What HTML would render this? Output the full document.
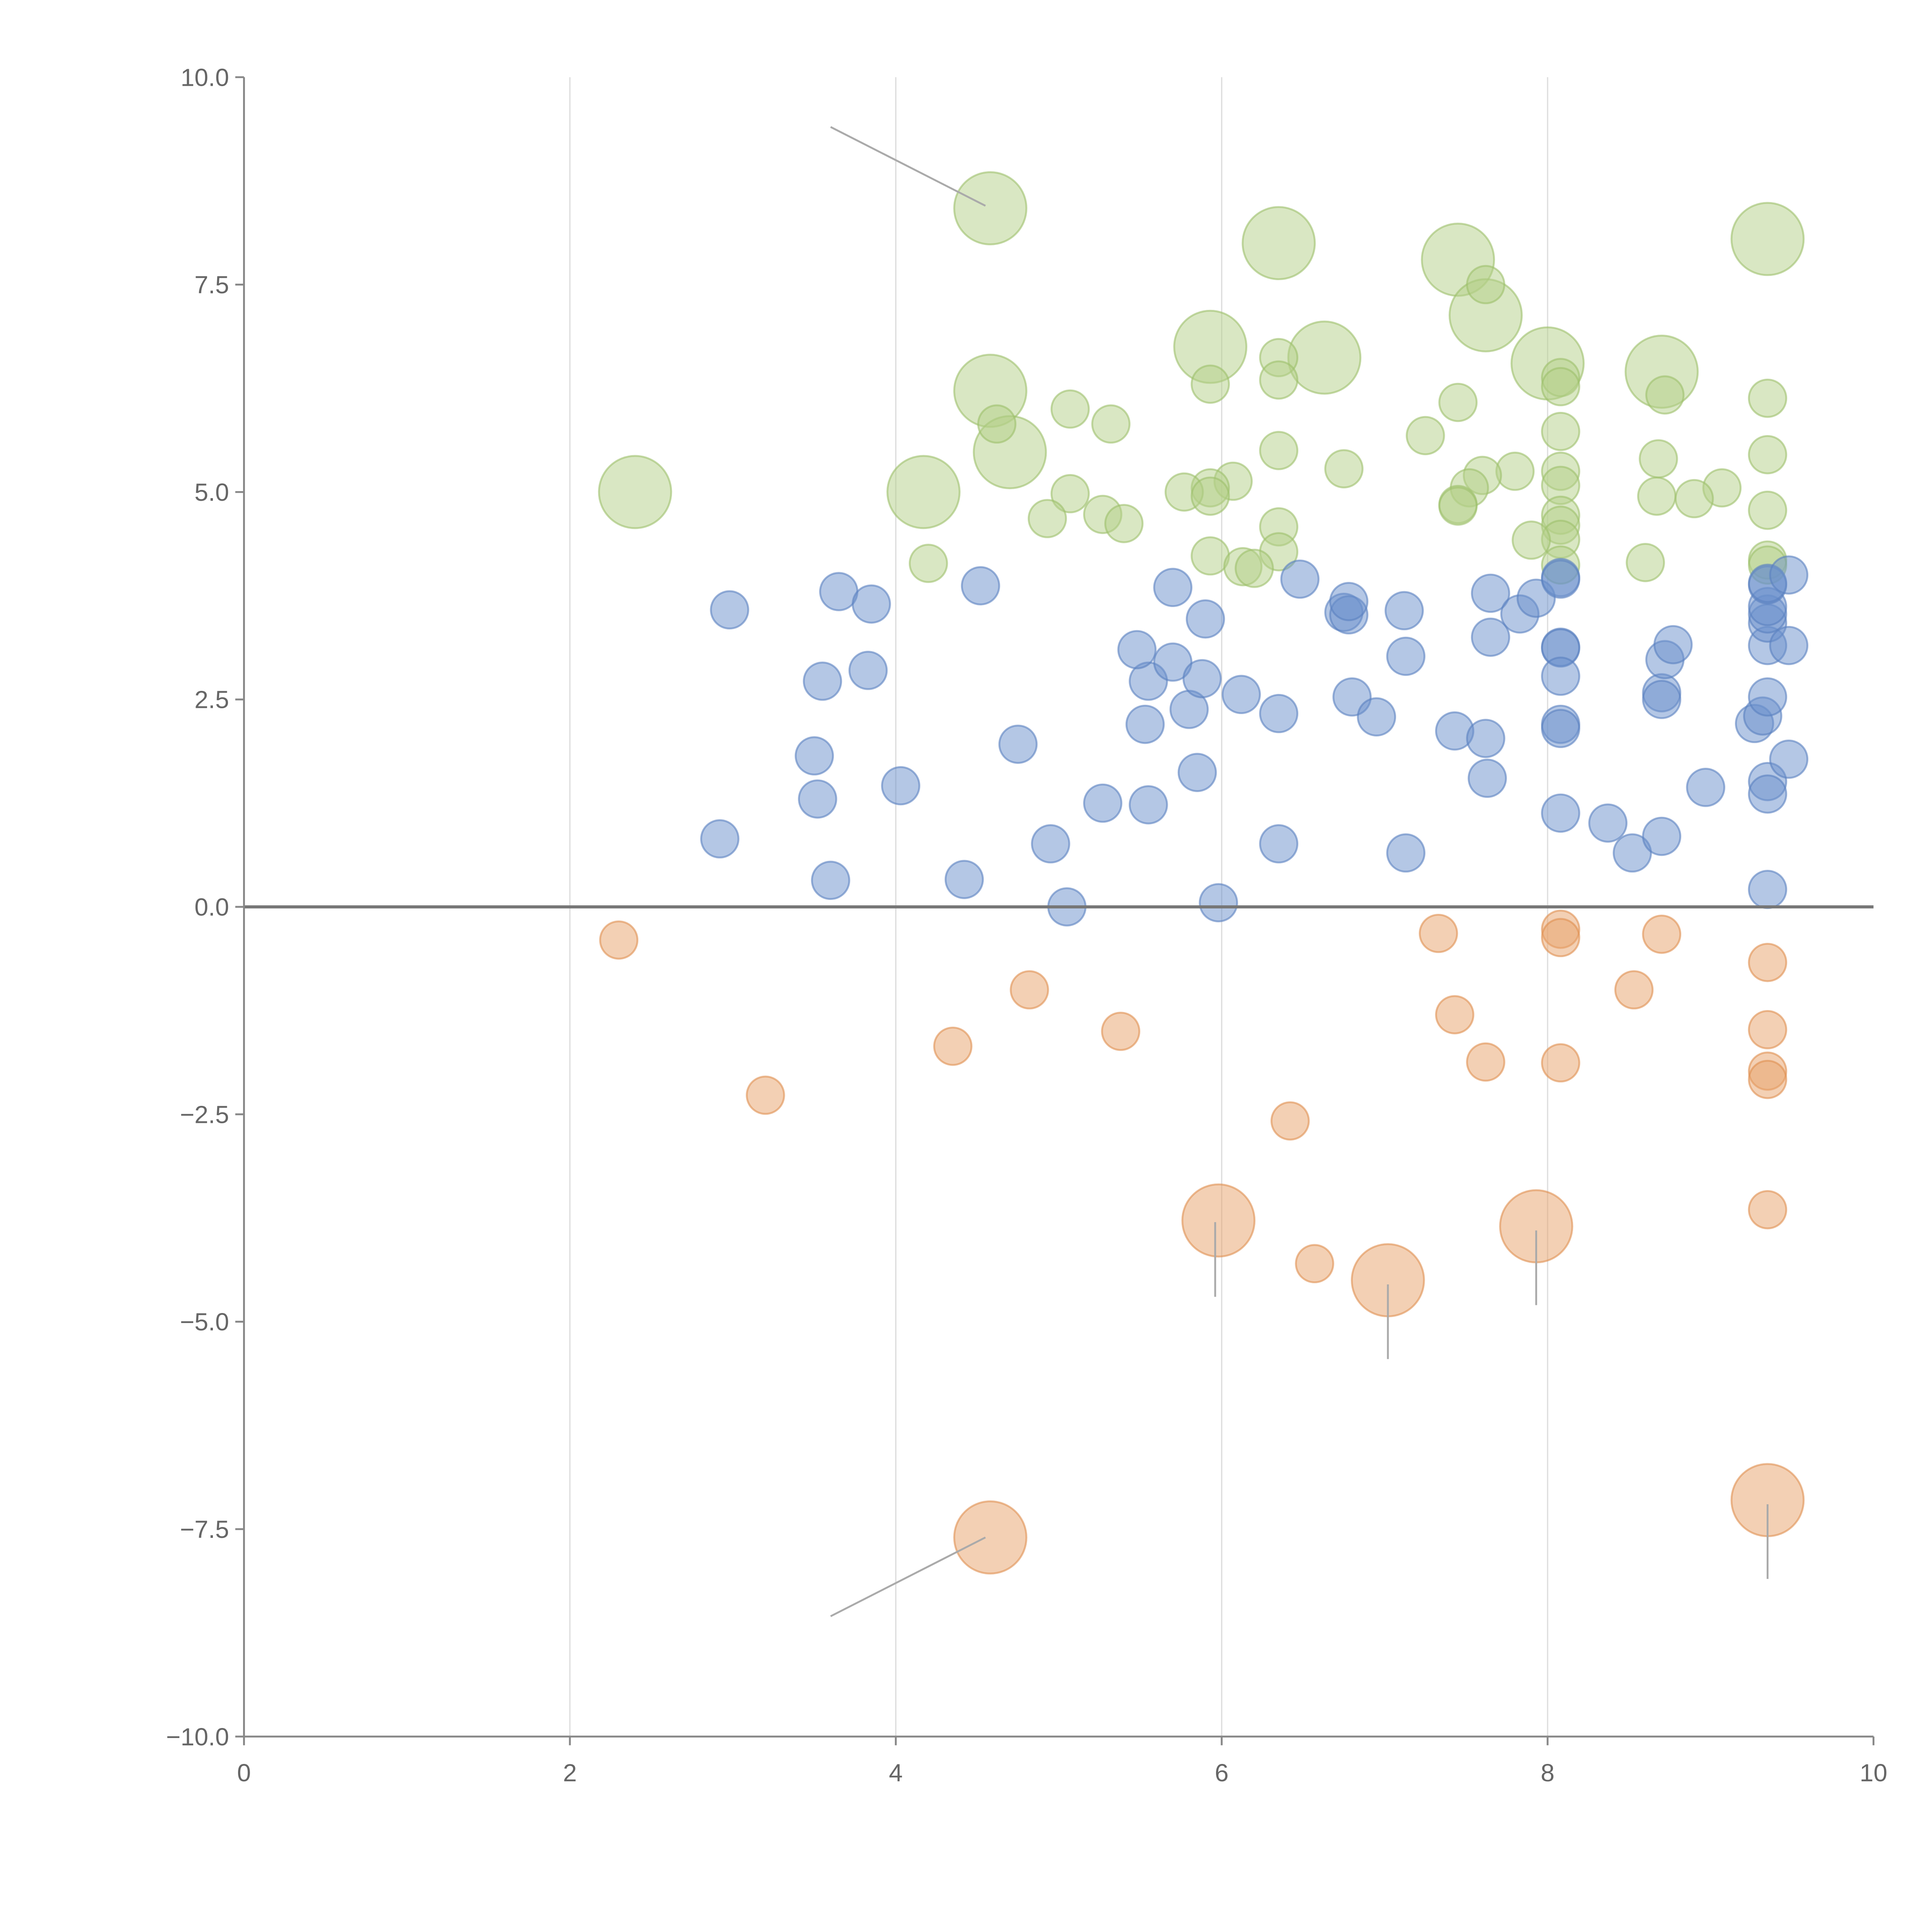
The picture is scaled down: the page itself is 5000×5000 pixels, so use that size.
<!DOCTYPE html>
<html><head><meta charset="utf-8">
<style>
html,body{margin:0;padding:0;background:#fff;}
svg{display:block;}
text{font-family:"Liberation Sans",sans-serif;}
</style></head>
<body>
<svg id="chart" width="5000" height="5000" viewBox="0 0 1552 1552" xmlns="http://www.w3.org/2000/svg">
<g id="grid"></g>
<g id="points"></g>
<g id="leaders"></g>
<g id="axes"></g>
</svg>
<script>
const xTicks = [0,2,4,6,8,10];
const yTicks = [10,7.5,5,2.5,0,-2.5,-5,-7.5,-10];
const yTickLabels = ["10.0","7.5","5.0","2.5","0.0","−2.5","−5.0","−7.5","−10.0"];
const greenX = [4.58,6.35,7.45,9.35,5.93,6.63,7.62,8.0,8.7,4.58,4.7,4.17,2.4,7.62,5.93,6.35,6.35,8.08,8.08,8.72,9.35,7.45,5.07,5.32,4.62,8.08,7.25,6.35,9.35,8.68,6.75,7.8,8.08,7.6,6.07,5.93,5.07,5.77,8.08,7.52,9.07,8.67,8.9,5.93,7.45,7.45,9.35,8.08,4.93,5.27,5.4,8.08,6.35,8.08,7.9,6.35,5.93,9.35,9.35,8.08,8.6,4.2,6.13,6.2];
const greenY = [8.42,8.0,7.8,8.05,6.75,6.62,7.13,6.55,6.45,6.22,5.48,5.0,5.0,7.5,6.3,6.62,6.35,6.38,6.27,6.17,6.13,6.08,6.0,5.82,5.82,5.73,5.68,5.5,5.45,5.4,5.28,5.25,5.25,5.2,5.13,5.05,4.98,5.0,5.08,5.05,5.05,4.95,4.92,4.95,4.85,4.83,4.78,4.72,4.68,4.73,4.62,4.6,4.58,4.43,4.42,4.28,4.23,4.18,4.12,4.12,4.15,4.14,4.1,4.08];
const greenBig = [1,1,1,1,1,1,1,1,1,1,1,1,1,0,0,0,0,0,0,0,0,0,0,0,0,0,0,0,0,0,0,0,0,0,0,0,0,0,0,0,0,0,0,0,0,0,0,0,0,0,0,0,0,0,0,0,0,0,0,0,0,0,0,0];
const blueX = [2.98,3.65,3.85,4.52,3.55,3.83,3.5,3.52,4.03,4.75,2.92,3.6,4.42,4.95,5.05,5.98,5.27,5.55,5.85,5.53,5.8,5.55,5.48,5.7,5.88,5.9,5.7,6.12,6.35,6.35,6.48,6.75,6.78,6.78,6.8,6.95,7.12,7.13,7.13,7.43,7.62,7.63,7.65,7.65,7.83,7.93,8.08,8.08,8.08,8.08,8.08,8.08,8.08,8.08,8.37,8.52,8.7,8.7,8.7,8.72,8.77,8.97,9.27,9.32,9.35,9.35,9.35,9.35,9.35,9.35,9.35,9.35,9.35,9.35,9.48,9.48,9.48];
const blueY = [3.58,3.8,3.65,3.87,2.72,2.85,1.82,1.3,1.46,1.96,0.82,0.32,0.33,0.76,0.0,0.05,1.25,1.23,1.62,2.2,2.38,2.72,3.1,2.95,2.75,3.47,3.85,2.56,2.33,0.76,3.95,3.55,3.52,3.68,2.53,2.29,3.57,3.02,0.65,2.12,2.03,1.55,3.78,3.25,3.53,3.72,3.97,3.95,3.13,3.12,2.78,2.2,2.15,1.13,1.01,0.65,0.85,2.58,2.5,2.98,3.16,1.44,2.21,2.3,1.51,1.36,0.21,2.53,3.15,3.42,3.53,3.62,3.88,3.9,4.0,3.15,1.78];
const orangeX = [2.3,3.2,4.35,4.82,5.38,6.42,6.57,7.33,7.43,7.62,8.08,8.08,8.08,8.53,8.7,9.35,9.35,9.35,9.35,9.35,5.98,7.02,7.93,4.58,9.35];
const orangeY = [-0.4,-2.27,-1.68,-1.0,-1.5,-2.58,-4.3,-0.32,-1.3,-1.87,-0.27,-0.37,-1.88,-1.0,-0.33,-0.67,-1.48,-1.98,-2.08,-3.65,-3.78,-4.5,-3.85,-7.6,-7.15];
const orangeBig = [0,0,0,0,0,0,0,0,0,0,0,0,0,0,0,0,0,0,0,0,1,1,1,1,1];
const leaderX1 = [3.6,3.6,5.96,7.02,7.93,9.35];
const leaderY1 = [9.4,-8.55,-3.8,-4.55,-3.9,-7.2];
const leaderX2 = [4.55,4.55,5.96,7.02,7.93,9.35];
const leaderY2 = [8.45,-7.6,-4.7,-5.45,-4.8,-8.1];

const NS="http://www.w3.org/2000/svg";
const X0=196,X1=1505,Y0=1395,Y1=62;
function sx(v){return X0+(v-0)/(10-0)*(X1-X0);}
function sy(v){return Y0-(v+10)/20*(Y0-Y1);}
function mk(t,a,p){const e=document.createElementNS(NS,t);for(const k in a)e.setAttribute(k,a[k]);p.appendChild(e);return e;}
const grid=document.getElementById('grid'),pts=document.getElementById('points'),ax=document.getElementById('axes'),ld=document.getElementById('leaders');
xTicks.forEach(t=>{if(t>0&&t<10){const l=mk('line',{x1:sx(t),x2:sx(t),y1:Y1,y2:Y0,stroke:'#dddddd','stroke-width':1},grid);

}});
function series(xs,ys,big,fill,stroke,name){
 xs.forEach((x,i)=>{const c=mk('circle',{cx:sx(x),cy:sy(ys[i]),r:big[i]?29:15,fill:fill,'fill-opacity':0.5,stroke:stroke,'stroke-opacity':0.6,'stroke-width':1.5},pts);
 
 });
}
series(greenX,greenY,greenBig,'#b3cf88','#9dbf6a','bubble-positive-high');
series(blueX,blueY,blueX.map(()=>0),'#6a8fcc','#5a80c0','bubble-positive');
series(orangeX,orangeY,orangeBig,'#e8a26a','#e09050','bubble-negative');
leaderX1.forEach((x,i)=>{const l=mk('line',{x1:sx(x),y1:sy(leaderY1[i]),x2:sx(leaderX2[i]),y2:sy(leaderY2[i]),stroke:'#aaaaaa','stroke-width':1.5},ld);

});
const z=mk('line',{x1:X0,x2:X1,y1:sy(0),y2:sy(0),stroke:'#777','stroke-width':2.5},ax);


const ya=mk('line',{x1:X0,x2:X0,y1:Y1,y2:Y0,stroke:'#888','stroke-width':1.5},ax);


const xa=mk('line',{x1:X0,x2:X1,y1:Y0,y2:Y0,stroke:'#888','stroke-width':1.5},ax);


yTicks.forEach((t,i)=>{mk('line',{x1:X0-7,x2:X0,y1:sy(t),y2:sy(t),stroke:'#888','stroke-width':1.5},ax);
 const tx=mk('text',{x:X0-12,y:sy(t)+7,'text-anchor':'end','font-size':20,fill:'#666'},ax);tx.textContent=yTickLabels[i];
 
 });
xTicks.forEach(t=>{mk('line',{x1:sx(t),x2:sx(t),y1:Y0,y2:Y0+7,stroke:'#888','stroke-width':1.5},ax);
 const tx=mk('text',{x:sx(t),y:Y0+36,'text-anchor':'middle','font-size':20,fill:'#666'},ax);tx.textContent=String(t);
 
 });
</script>
</body></html>
